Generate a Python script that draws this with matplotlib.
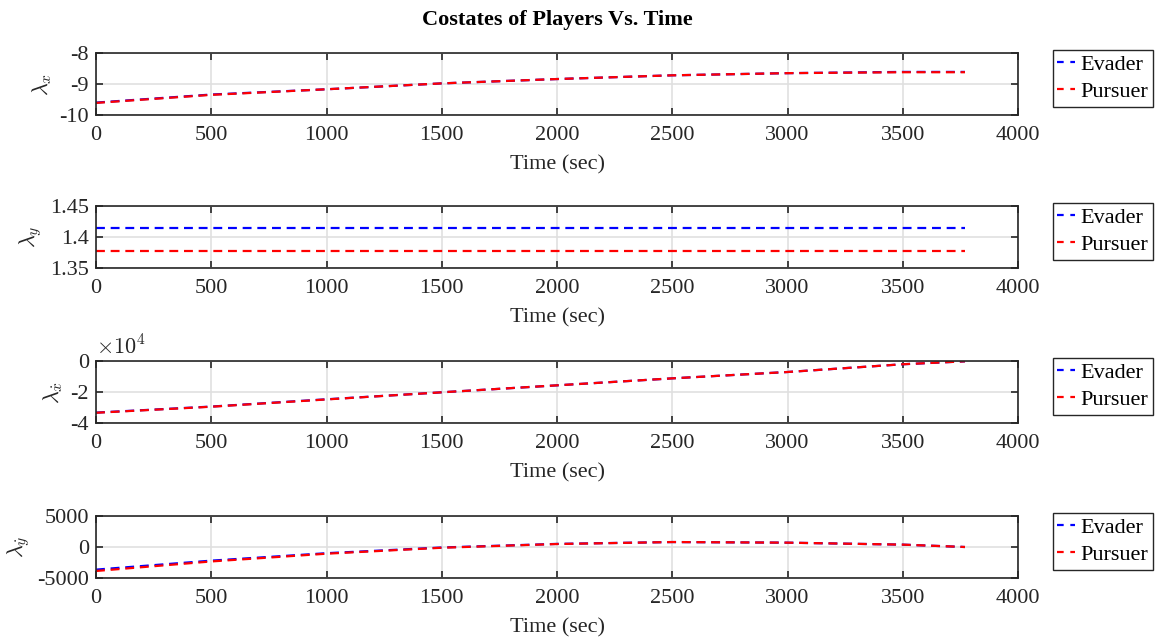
import numpy as np
import matplotlib
matplotlib.use("Agg")
import matplotlib.pyplot as plt
from matplotlib.lines import Line2D
from matplotlib.ticker import FuncFormatter

plt.rcParams["font.family"] = ["Liberation Serif", "DejaVu Serif"]
plt.rcParams["mathtext.fontset"] = "cm"
plt.rcParams["axes.unicode_minus"] = False

# ---------------------------------------------------------------------------
# Data
# ---------------------------------------------------------------------------
t = [0, 500, 1000, 1500, 2000, 2500, 3000, 3500, 3770]

lam_x_evader  = [-9.60, -9.34, -9.17, -8.98, -8.84, -8.72, -8.65, -8.61, -8.61]
lam_x_pursuer = [-9.61, -9.35, -9.17, -8.98, -8.84, -8.72, -8.65, -8.62, -8.62]

lam_y_evader  = [1.4145] * len(t)
lam_y_pursuer = [1.3770] * len(t)

lam_xd_evader  = [-33300, -29400, -24700, -20200, -15700, -11200, -7100, -2100, -200]
lam_xd_pursuer = [-33400, -29500, -24800, -20200, -15700, -11200, -7100, -2100, -200]

lam_yd_evader  = [-3650, -2200, -1000, -80, 500, 800, 700, 380, 0]
lam_yd_pursuer = [-3870, -2330, -1080, -120, 480, 800, 700, 380, 0]

series = [
    (lam_x_evader, lam_x_pursuer, r"$\lambda_x$", (-10, -8), [-10, -9, -8], 1),
    (lam_y_evader, lam_y_pursuer, r"$\lambda_y$", (1.35, 1.45), [1.35, 1.4, 1.45], 1),
    (lam_xd_evader, lam_xd_pursuer, r"$\lambda_{\dot{x}}$", (-40000, 0), [-40000, -20000, 0], 1e4),
    (lam_yd_evader, lam_yd_pursuer, r"$\lambda_{\dot{y}}$", (-5000, 5000), [-5000, 0, 5000], 1),
]

# ---------------------------------------------------------------------------
# Plot
# ---------------------------------------------------------------------------
W, H = 1156, 640
fig = plt.figure(figsize=(W / 100, H / 100), dpi=100)

tops = [53, 206, 361, 516]
ax_h = 62
left, width = 96, 922
FS = 16

# legend handles with a shorter dash so two dashes show, as in MATLAB
leg_handles = [Line2D([], [], color="blue", lw=1.6, dashes=(3, 3), label="Evader"),
               Line2D([], [], color="red", lw=1.6, dashes=(3, 3), label="Pursuer")]

for top, (ev, pu, ylab, ylim, yticks, scale) in zip(tops, series):
    ax = fig.add_axes([left / W, 1 - (top + ax_h) / H, width / W, ax_h / H])
    ax.plot(t, ev, "--", color="blue", lw=1.6, dashes=(4, 2.6), label="Evader")
    ax.plot(t, pu, "--", color="red", lw=1.6, dashes=(4, 2.6), label="Pursuer")
    ax.set_xlim(0, 4000)
    ax.set_ylim(*ylim)
    ax.set_xticks(np.arange(0, 4001, 500))
    ax.set_yticks(yticks)
    ax.yaxis.set_major_formatter(FuncFormatter(lambda v, p, s=scale: f"{v / s:g}"))
    ax.grid(True, color="#e0e0e0", lw=1.2)
    ax.set_axisbelow(True)
    ax.tick_params(direction="in", length=5, width=1.2, top=True, right=True,
                   labelsize=FS, colors="#262626")
    ax.tick_params(axis="x", pad=8)
    ax.tick_params(axis="y", pad=5)
    for sp in ax.spines.values():
        sp.set_color("#262626")
        sp.set_linewidth(1.2)
    ax.set_xlabel("Time (sec)", fontsize=FS, labelpad=7, color="#262626")
    ax.set_ylabel(ylab, fontsize=FS, labelpad=4, color="#262626")
    if scale != 1:
        ax.text(0.0, 1.02, r"$\times10^4$", transform=ax.transAxes,
                fontsize=FS, color="#262626", ha="left", va="bottom")
    leg = fig.legend(handles=leg_handles, loc="upper left",
                     bbox_to_anchor=(1053 / W, 1 - (top - 3) / H),
                     fontsize=FS, handlelength=0.8, handletextpad=0.25,
                     borderpad=0.2, labelspacing=0.3, fancybox=False,
                     edgecolor="#262626", framealpha=1, borderaxespad=0)
    leg.get_frame().set_linewidth(1.0)

fig.text((left + width / 2) / W, 1 - 20 / H, "Costates of Players Vs. Time",
         ha="center", va="center", fontsize=FS, fontweight="bold")

fig.savefig("out.png", dpi=100)
